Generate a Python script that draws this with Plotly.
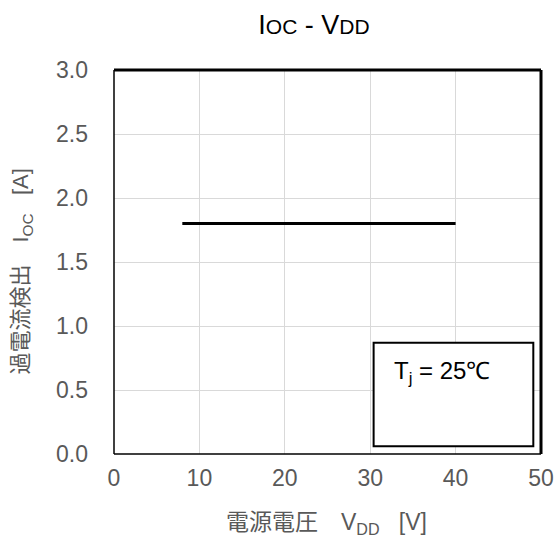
import plotly.graph_objects as go

# Over-current detection level vs supply voltage
vdd = [8, 40]
ioc = [1.8, 1.8]

x_ticks = [0, 10, 20, 30, 40, 50]
y_ticks = [0.0, 0.5, 1.0, 1.5, 2.0, 2.5, 3.0]

GRAY = "#595959"
FONT = "Liberation Sans, Arial, sans-serif"
CJK = "Liberation Sans, Noto Sans CJK JP, sans-serif"
NB = "\u00a0"

fig = go.Figure()
fig.add_trace(go.Scatter(
    x=vdd, y=ioc, mode="lines",
    line=dict(color="black", width=3),
    showlegend=False, hoverinfo="skip",
))

fig.update_layout(
    width=555, height=538,
    margin=dict(l=114, r=14, t=70, b=84),
    paper_bgcolor="white", plot_bgcolor="white",
    title=dict(
        text="I<span style='font-size:21px'>OC</span> - V<span style='font-size:21px'>DD</span>",
        xref="container", x=314 / 555, xanchor="center",
        y=1 - 25 / 538, yanchor="middle",
        font=dict(family=FONT, size=27, color="black"),
    ),
    xaxis=dict(
        range=[0, 50], tickvals=x_ticks, ticktext=[str(v) for v in x_ticks],
        showgrid=True, gridcolor="#d9d9d9", gridwidth=1,
        zeroline=False, showline=False, ticks="", automargin=False,
        tickfont=dict(family=FONT, size=23, color=GRAY),
        ticklabelstandoff=8,
    ),
    yaxis=dict(
        range=[0, 3], tickvals=y_ticks, ticktext=[f"{v:.1f}" for v in y_ticks],
        showgrid=True, gridcolor="#d9d9d9", gridwidth=1,
        zeroline=False, showline=False, ticks="", automargin=False,
        tickfont=dict(family=FONT, size=23, color=GRAY),
        ticklabelstandoff=25,
    ),
)

# Axis titles
fig.add_annotation(
    xref="paper", yref="paper", x=0.4977, y=-0.18, xanchor="center", yanchor="middle",
    text=f"電源電圧　V<sub>DD</sub>{NB * 3}[V]", showarrow=False,
    font=dict(family=CJK, size=23, color=GRAY),
)
fig.add_annotation(
    xref="paper", yref="paper", x=-0.2155, y=0.475, xanchor="center", yanchor="middle",
    text=f"過電流検出　I<sub>OC</sub>{NB * 3}[A]", showarrow=False, textangle=-90,
    font=dict(family=CJK, size=22, color=GRAY),
)

# Plot frame: heavy top/right edges, lighter left/bottom edges
fig.add_shape(type="line", xref="paper", yref="paper", x0=0, x1=1, y0=1, y1=1,
              line=dict(color="black", width=3))
fig.add_shape(type="line", xref="paper", yref="paper", x0=1, x1=1, y0=0, y1=1,
              line=dict(color="black", width=3))
fig.add_shape(type="line", xref="paper", yref="paper", x0=0, x1=0, y0=0, y1=1,
              line=dict(color="black", width=1.5))
fig.add_shape(type="line", xref="paper", yref="paper", x0=0, x1=1, y0=0, y1=0,
              line=dict(color="black", width=1.5))

# Condition box
fig.add_shape(type="rect", xref="x", yref="y", x0=30.4, x1=49.1, y0=0.06, y1=0.87,
              line=dict(color="black", width=2), fillcolor="white")
fig.add_annotation(
    xref="x", yref="y", x=32.5, y=0.633, xanchor="left", yanchor="middle",
    text="T<sub>j</sub> = 25℃", showarrow=False,
    font=dict(family=FONT, size=24, color="black"),
)

fig.write_html("out.html")
